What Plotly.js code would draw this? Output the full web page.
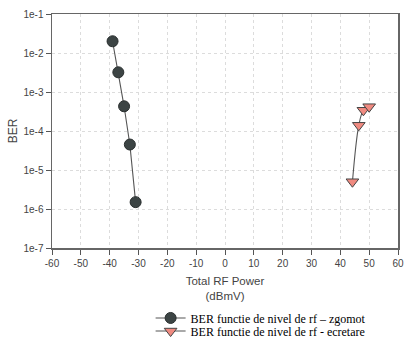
<!DOCTYPE html>
<html>
<head>
<meta charset="utf-8">
<script src="https://cdn.plot.ly/plotly-3.0.1.min.js"></script>
<style>html,body{margin:0;padding:0;background:#fff;}#chart{width:413px;height:358px;}</style>
</head>
<body>
<div id="chart"></div>
<script>
const zgomotX = [-39, -37, -35, -33, -31];
const zgomotY = [0.02, 0.0032, 0.00043, 0.000045, 0.0000015];
const ecretareX = [44.2, 46.4, 48, 50];
const ecretareY = [0.000005, 0.00014, 0.00034, 0.00042];
const seriesNames = ["BER functie de nivel de rf \u2013 zgomot", "BER functie de nivel de rf - ecretare"];
const yTickVals = [1e-7, 1e-6, 1e-5, 1e-4, 1e-3, 1e-2, 1e-1];
const yTickText = ["1e-7", "1e-6", "1e-5", "1e-4", "1e-3", "1e-2", "1e-1"];
const xTickVals = [-60, -50, -40, -30, -20, -10, 0, 10, 20, 30, 40, 50, 60];
const xTickText = ["-60", "-50", "-40", "-30", "-20", "-10", "0", "10", "20", "30", "40", "50", "60"];

const traces = [
  {x: zgomotX, y: zgomotY, name: seriesNames[0], type: 'scatter', mode: 'lines+markers', legend: 'legend',
   line: {color: '#555555', width: 1.1},
   marker: {symbol: 'circle', size: 11, color: '#3c4444', line: {color: '#2a2f2f', width: 1}}},
  {x: ecretareX, y: ecretareY, name: seriesNames[1], type: 'scatter', mode: 'lines+markers', legend: 'legend2',
   line: {color: '#555555', width: 1.1, shape: 'spline'},
   marker: {symbol: 'triangle-down', size: 11, color: '#f08a80', line: {color: '#444444', width: 1}}}
];

const legendFont = {family: 'Liberation Serif, Times New Roman, serif', size: 12, color: '#000'};
const layout = {
  width: 413, height: 358,
  margin: {l: 52, r: 15, t: 14, b: 110, autoexpand: false},
  paper_bgcolor: '#ffffff', plot_bgcolor: '#ffffff',
  font: {family: 'Liberation Sans, Arial, sans-serif', size: 10, color: '#444'},
  showlegend: true,
  legend: {x: 0.285, xanchor: 'left', y: -0.237, yanchor: 'top', bgcolor: 'rgba(0,0,0,0)',
    font: legendFont, itemwidth: 30},
  legend2: {x: 0.285, xanchor: 'left', y: -0.293, yanchor: 'top', bgcolor: 'rgba(0,0,0,0)',
    font: legendFont, itemwidth: 30},
  xaxis: {range: [-60, 60], tickvals: xTickVals, ticktext: xTickText, ticks: 'outside', ticklen: 5, tickcolor: '#555',
    showline: true, linecolor: '#666', linewidth: 1.5, mirror: true, automargin: false,
    showgrid: true, gridcolor: '#dcdcdc', griddash: 'dot', zeroline: false,
    tickfont: {size: 10, color: '#444'},
    title: {text: 'Total RF Power<br>(dBmV)', font: {size: 11.5, color: '#444'}, standoff: 9}},
  yaxis: {type: 'log', range: [-7, -1], tickvals: yTickVals, ticktext: yTickText,
    ticks: 'outside', ticklen: 5, tickcolor: '#555', automargin: false,
    showline: true, linecolor: '#666', linewidth: 1.5, mirror: true,
    showgrid: true, gridcolor: '#dcdcdc', griddash: 'dot', zeroline: false,
    tickfont: {size: 10, color: '#444'},
    title: {text: 'BER', font: {size: 12, color: '#444'}, standoff: 3}}
};

Plotly.newPlot('chart', traces, layout, {displayModeBar: false, staticPlot: true});
</script>
</body>
</html>
